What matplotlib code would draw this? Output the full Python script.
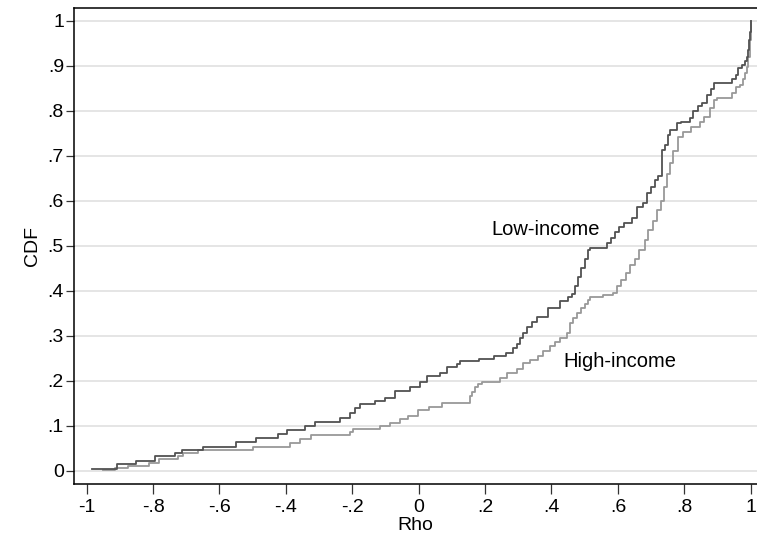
import matplotlib
matplotlib.use('Agg')
import matplotlib.pyplot as plt

# Empirical CDF of rho, one step per observation group
low_rho = [-0.983, -0.910, -0.852, -0.794, -0.734, -0.714, -0.651, -0.550, -0.490,
           -0.423, -0.398, -0.342, -0.312, -0.237, -0.207, -0.192, -0.177, -0.130,
           -0.100, -0.071, -0.026, 0.004, 0.024, 0.065, 0.084, 0.114, 0.124, 0.183,
           0.227, 0.263, 0.284, 0.295, 0.305, 0.315, 0.325, 0.340, 0.355, 0.390,
           0.426, 0.450, 0.462, 0.472, 0.480, 0.490, 0.500, 0.510, 0.516, 0.566,
           0.578, 0.590, 0.602, 0.618, 0.642, 0.657, 0.676, 0.687, 0.700, 0.712,
           0.722, 0.732, 0.742, 0.752, 0.757, 0.777, 0.790, 0.817, 0.826, 0.840,
           0.852, 0.867, 0.880, 0.890, 0.945, 0.955, 0.962, 0.975, 0.983, 0.988,
           0.992, 0.995, 0.998, 1.000]
low_cdf = [0.004, 0.015, 0.022, 0.033, 0.040, 0.046, 0.052, 0.064, 0.072,
           0.081, 0.090, 0.100, 0.109, 0.117, 0.129, 0.139, 0.148, 0.155,
           0.162, 0.176, 0.186, 0.196, 0.210, 0.217, 0.230, 0.237, 0.244, 0.249,
           0.255, 0.262, 0.272, 0.282, 0.295, 0.307, 0.320, 0.330, 0.342, 0.361,
           0.376, 0.385, 0.392, 0.410, 0.430, 0.450, 0.470, 0.490, 0.494, 0.505,
           0.517, 0.530, 0.542, 0.551, 0.561, 0.587, 0.595, 0.616, 0.630, 0.645,
           0.655, 0.713, 0.724, 0.745, 0.757, 0.772, 0.776, 0.783, 0.800, 0.810,
           0.818, 0.835, 0.848, 0.861, 0.870, 0.880, 0.894, 0.902, 0.910, 0.920,
           0.935, 0.957, 0.975, 1.000]

high_rho = [-0.950, -0.915, -0.875, -0.811, -0.781, -0.724, -0.709, -0.664, -0.498,
            -0.388, -0.357, -0.325, -0.207, -0.197, -0.117, -0.086, -0.056, -0.031,
            -0.001, 0.031, 0.071, 0.155, 0.162, 0.170, 0.178, 0.190, 0.245, 0.265,
            0.295, 0.315, 0.335, 0.360, 0.375, 0.395, 0.410, 0.425, 0.446, 0.455,
            0.465, 0.476, 0.490, 0.500, 0.510, 0.516, 0.556, 0.586, 0.598, 0.610,
            0.625, 0.636, 0.652, 0.665, 0.682, 0.692, 0.707, 0.717, 0.730, 0.740,
            0.747, 0.757, 0.767, 0.780, 0.797, 0.820, 0.847, 0.860, 0.877, 0.890,
            0.900, 0.943, 0.955, 0.968, 0.978, 0.983, 0.988, 0.993, 0.997, 1.000]
high_cdf = [0.002, 0.005, 0.010, 0.018, 0.025, 0.033, 0.039, 0.046, 0.052,
            0.061, 0.070, 0.080, 0.087, 0.093, 0.099, 0.106, 0.115, 0.122,
            0.135, 0.141, 0.150, 0.165, 0.175, 0.185, 0.193, 0.198, 0.207, 0.218,
            0.227, 0.239, 0.246, 0.255, 0.265, 0.276, 0.285, 0.295, 0.305, 0.328,
            0.340, 0.350, 0.362, 0.370, 0.380, 0.387, 0.390, 0.394, 0.410, 0.424,
            0.440, 0.457, 0.470, 0.490, 0.513, 0.535, 0.555, 0.580, 0.600, 0.630,
            0.660, 0.683, 0.710, 0.742, 0.752, 0.764, 0.775, 0.787, 0.805, 0.824,
            0.828, 0.840, 0.852, 0.857, 0.870, 0.883, 0.898, 0.920, 0.957, 1.000]

x_ticks = [-1, -0.8, -0.6, -0.4, -0.2, 0, 0.2, 0.4, 0.6, 0.8, 1]
x_labels = ['-1', '-.8', '-.6', '-.4', '-.2', '0', '.2', '.4', '.6', '.8', '1']
y_ticks = [0, 0.1, 0.2, 0.3, 0.4, 0.5, 0.6, 0.7, 0.8, 0.9, 1]
y_labels = ['0', '.1', '.2', '.3', '.4', '.5', '.6', '.7', '.8', '.9', '1']

plt.rcParams['font.family'] = ['Liberation Sans', 'DejaVu Sans']

fig = plt.figure(figsize=(7.57, 5.42), dpi=100)
ax = fig.add_axes([0.0982, 0.1076, 0.9018, 0.8771])

for y in y_ticks:
    ax.axhline(y, color='#e0e0e0', lw=1.2, zorder=0)

ax.step(high_rho, high_cdf, where='post', color='#999999', lw=1.3)
ax.step(low_rho, low_cdf, where='post', color='#525252', lw=1.3)

ax.text(0.22, 0.524, 'Low-income', fontsize=14.5, ha='left', va='baseline')
ax.text(0.4355, 0.2298, 'High-income', fontsize=14.5, ha='left', va='baseline')

ax.set_xlim(-1.037, 1.019)
ax.set_ylim(-0.0289, 1.0276)
ax.set_xticks(x_ticks)
ax.set_xticklabels(x_labels)
ax.set_yticks(y_ticks)
ax.set_yticklabels(y_labels)
ax.tick_params(axis='both', labelsize=14, width=0.9, color='#333333')
ax.tick_params(axis='x', length=7, pad=4)
ax.tick_params(axis='y', length=5.5, pad=2)

ax.spines['right'].set_visible(False)
for side in ['left', 'bottom', 'top']:
    ax.spines[side].set_linewidth(1.1)
    ax.spines[side].set_color('black')

ax.set_xlabel('Rho', fontsize=14, labelpad=1)
ax.set_ylabel('CDF', fontsize=14, labelpad=5)

fig.savefig('out.png', dpi=100)
plt.close(fig)
